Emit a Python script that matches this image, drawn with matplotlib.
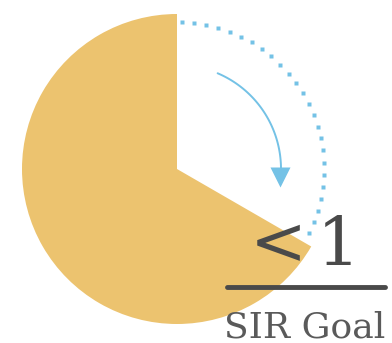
import matplotlib
matplotlib.use("Agg")
import matplotlib.pyplot as plt
import numpy as np

# share of the circle that is filled vs. the part still to go
slices = [2, 1]
goal_sign = "<"
goal_number = "1"
goal_label = "SIR Goal"

gold = "#ecc36f"
blue = "#74c2e6"
ink = "#4a4a4a"

W, H = 392, 343
fig = plt.figure(figsize=(W / 100, H / 100), dpi=100)
ax = fig.add_axes([0, 0, 1, 1])

cx, cy, r = 177, H - 169, 155
ax.pie(slices, colors=[gold, "none"], startangle=90, counterclock=True,
       center=(cx, cy), radius=r, wedgeprops=dict(linewidth=0))

# dotted arc over the empty slice
ang = np.radians(np.linspace(88, -26, 25))
ax.plot(cx + 147 * np.cos(ang), cy + 147 * np.sin(ang), "s", ms=2.6,
        color=blue, mec="none")

# curved arrow
ang = np.radians(np.linspace(67, -2, 60))
ax.plot(cx + 104 * np.cos(ang), cy + 104 * np.sin(ang), color=blue, lw=1.4,
        solid_capstyle="round")
ax.plot([280], [H - 177], "v", ms=15, color=blue, mec="none")

# goal text
ax.text(278, H - 264, goal_sign, fontsize=49, color=ink, family="DejaVu Serif",
        ha="center", va="baseline")
ax.text(338, H - 265, goal_number, fontsize=49, color=ink, family="DejaVu Serif",
        ha="center", va="baseline")
ax.plot([227, 385], [H - 287, H - 287], color=ink, lw=3.5, solid_capstyle="round")
ax.text(305, H - 337, goal_label, fontsize=26, color="#5a5a5a",
        family="DejaVu Serif", ha="center", va="baseline")

ax.set_xlim(0, W)
ax.set_ylim(0, H)
ax.set_aspect("equal")
ax.axis("off")
fig.savefig("out.png", dpi=100)
